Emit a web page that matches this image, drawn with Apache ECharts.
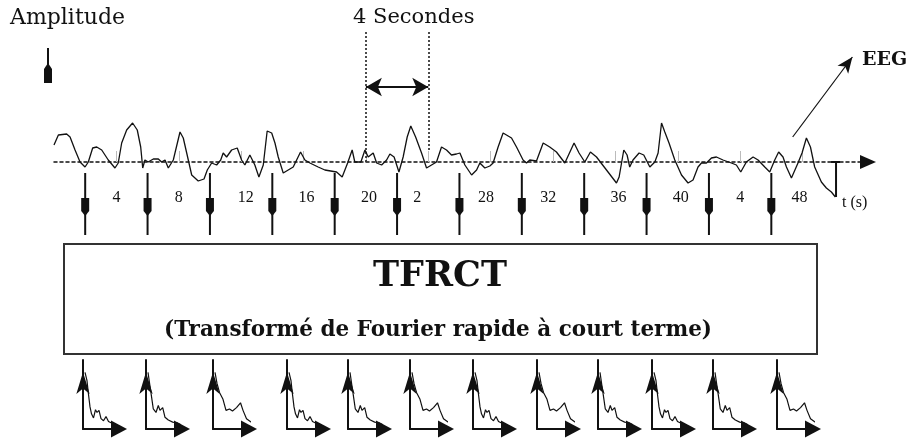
<!DOCTYPE html>
<html>
<head>
<meta charset="utf-8">
<script src="https://cdn.jsdelivr.net/npm/echarts@6/dist/echarts.min.js"></script>
<style>
html, body { margin: 0; padding: 0; background: #fff; }
#chart { width: 918px; height: 444px; }
</style>
</head>
<body>
<div id="chart"></div>
<script>
// EEG trace: time (s) / amplitude
const eegTime = [0, 0.28, 0.81, 1.03, 1.35, 1.67, 1.99, 2.2, 2.48, 2.74,
  3.06, 3.48, 3.91, 4.12, 4.34, 4.66, 5.04, 5.34, 5.56, 5.69,
  5.83, 6.04, 6.37, 6.69, 6.9, 7.12, 7.33, 7.65, 8.08, 8.29,
  8.51, 8.83, 9.25, 9.62, 9.83, 10.11, 10.43, 10.69, 10.85, 11.07,
  11.39, 11.75, 12.03, 12.24, 12.56, 12.88, 13.14, 13.42, 13.67, 13.96,
  14.17, 14.38, 14.7, 15.02, 15.34, 15.81, 16.09, 16.41, 16.94, 17.37,
  18.12, 18.48, 18.83, 19.12, 19.29, 19.68, 19.94, 20.15, 20.47, 20.69,
  21.01, 21.33, 21.54, 21.81, 22.12, 22.39, 22.65, 22.88, 23.19, 23.57,
  23.89, 24.21, 24.53, 24.85, 25.17, 25.49, 25.81, 26.03, 26.35, 26.78,
  27.1, 27.31, 27.63, 27.95, 28.16, 28.48, 28.8, 29.34, 29.66, 30.08,
  30.3, 30.51, 30.94, 31.37, 31.79, 32.22, 32.76, 33.35, 33.67, 34.04,
  34.4, 34.79, 35.43, 36.07, 36.24, 36.54, 36.75, 36.92, 37.13, 37.52,
  37.82, 38.21, 38.53, 38.74, 38.96, 39.17, 39.44, 39.81, 40.24, 40.66,
  40.98, 41.3, 41.52, 41.84, 42.16, 42.48, 42.9, 43.44, 43.76, 44.04,
  44.4, 44.83, 45.15, 45.58, 45.9, 46.22, 46.47, 46.75, 46.97, 47.29,
  47.71, 47.97, 48.25, 48.51, 48.78, 49.21, 49.53, 49.85, 50.11]
const eegAmp = [1.7, 2.7, 2.8, 2.5, 1.2, 0.0, -0.5, 0.0, 1.4, 1.5,
  1.2, 0.2, -0.6, -0.1, 1.9, 3.2, 3.9, 3.2, 1.5, -0.6,
  0.2, 0.0, 0.3, 0.3, 0.0, 0.2, -0.6, 0.2, 3.0, 2.4,
  0.9, -1.3, -1.9, -1.7, -0.8, -0.1, -0.3, 0.2, 0.9, 0.5,
  1.2, 1.4, 0.2, -0.3, 0.7, -0.3, -1.5, -0.3, 3.1, 2.9,
  1.9, 0.5, -1.1, -0.8, -0.5, 1.0, 0.2, -0.1, -0.5, -0.8,
  -1.0, -1.5, -0.1, 1.2, 0.0, 0.0, 1.2, 0.5, 0.9, -0.1,
  -0.3, 0.2, 0.8, 0.5, -1.0, 0.5, 2.5, 3.6, 2.5, 0.9,
  -0.6, -0.3, 0.0, 1.5, 1.2, 0.7, 0.8, 0.9, -0.3, -1.3,
  -0.8, -0.1, -0.6, -0.4, -0.1, 1.5, 2.9, 2.4, 1.5, 0.2,
  -0.1, 0.2, 0.1, 1.9, 1.5, 1.0, -0.1, 1.9, 0.9, 0.0,
  1.0, 0.5, -0.8, -2.1, -1.5, 1.2, 0.7, -0.5, 0.2, 0.9,
  0.7, -0.5, 0.0, 0.9, 3.9, 3.0, 1.9, 0.2, -1.3, -2.1,
  -1.8, -0.5, -0.1, -0.1, 0.4, 0.5, 0.2, -0.1, -0.3, -1.0,
  0.0, 0.5, 0.2, -0.5, -1.0, 0.2, 1.0, 0.5, -0.5, -1.6,
  -0.1, 0.9, 2.4, 1.5, -0.5, -2.0, -2.6, -3.0, -3.5]

// where the trace is cut into windows (arrows down to the box)
const cutTimes = [2, 6, 10, 14, 18, 22, 26, 30, 34, 38, 42, 46]
// window labels, as printed
const labelTimes = [4, 8, 12.3, 16.2, 20.2, 23.3, 27.7, 31.7, 36.2, 40.2, 44, 47.8]
const labelTexts = ['4', '8', '12', '16', '20', '2', '28', '32', '36', '40', '4', '48']
const tickTimes = [4, 8, 12, 16, 20, 24, 28, 32, 36, 40, 44, 48]
// the "4 Secondes" window
const windowSpan = [20, 24]
// end of the trace (t (s) mark)
const traceEnd = 50.15

// spectrum shapes (frequency / magnitude)
const specAFreq = [2, 4, 5.5, 7, 8.5, 10.5, 12.5, 14, 16, 18, 20.5, 23, 25.5, 28, 31, 35]
const specAAmp = [8.2, 7.0, 5.0, 3.2, 2.2, 1.6, 2.8, 2.4, 2.7, 1.5, 1.2, 1.8, 1.1, 0.9, 0.8, 0.5]
const specBFreq = [2, 4, 6.5, 10, 13, 16.5, 19.5, 23.5, 27.5, 30, 33.5, 38, 42, 46]
const specBAmp = [8.2, 6.6, 5.3, 4.3, 2.7, 2.9, 2.6, 3.1, 3.8, 2.7, 1.5, 1.0, 1.4, 1.8]
const specCFreq = [2, 4, 5.7, 7.3, 10, 12.3, 14, 16.7, 19, 22.3, 26.7, 31, 35]
const specCAmp = [8.2, 6.2, 4.5, 2.9, 2.4, 3.4, 2.7, 3.1, 1.7, 1.3, 1.0, 0.9, 0.6]
const specShape = ['A', 'C', 'B', 'A', 'C', 'B', 'A', 'B', 'C', 'A', 'C', 'B']

// layout of the small spectrum plots (left edge of each)
const specLeft = [83, 146, 213, 287, 348, 410, 473, 537, 598, 652, 713, 777]

const ink = '#111'
const serif = 'DejaVu Serif'
const zip = (a, b) => a.map((v, i) => [v, b[i]])
const shapes = {
  A: zip(specAFreq, specAAmp),
  B: zip(specBFreq, specBAmp),
  C: zip(specCFreq, specCAmp)
}

// main grid: its bottom edge is the zero line of the trace
const grids = [{ left: 54, top: 20, width: 814, height: 142, outerBoundsMode: 'none' }]
const xAxes = [{
  type: 'value', gridIndex: 0, min: 0, max: 52.2,
  axisLine: {
    show: true, onZero: false,
    lineStyle: { color: ink, width: 1.5, type: [3, 3] },
    symbol: ['none', 'triangle'], symbolSize: [14, 16]
  },
  axisTick: { show: true, inside: true, length: 11, customValues: tickTimes, lineStyle: { color: '#bbb' } },
  axisLabel: {
    show: true, customValues: labelTimes, margin: 28,
    color: ink, fontFamily: 'Liberation Serif', fontSize: 16,
    formatter: v => labelTexts[labelTimes.indexOf(v)]
  },
  splitLine: { show: false }
}]
const yAxes = [{ type: 'value', gridIndex: 0, min: 0, max: 14.2, show: false }]

const series = [
  {
    type: 'line', xAxisIndex: 0, yAxisIndex: 0, clip: false,
    data: zip(eegTime, eegAmp), showSymbol: false, silent: true,
    lineStyle: { color: ink, width: 1.3 }
  },
  {
    // arrows down from each cut to the box
    type: 'custom', xAxisIndex: 0, yAxisIndex: 0, silent: true, clip: false,
    data: cutTimes.map(t => [t]),
    renderItem: function (params, api) {
      const t = api.value(0)
      const top = api.coord([t, -1.1])
      const bot = api.coord([t, -7.3])
      const h1 = api.coord([t, -3.6])[1]
      const h2 = api.coord([t, -5.4])[1]
      const x = top[0]
      return {
        type: 'group',
        children: [
          { type: 'line', shape: { x1: x, y1: top[1], x2: x, y2: bot[1] }, style: { stroke: ink, lineWidth: 2 } },
          { type: 'polygon', shape: { points: [[x - 4, h1], [x + 4, h1], [x + 4, h2 - 5], [x, h2], [x - 4, h2 - 5]] }, style: { fill: ink } }
        ]
      }
    }
  },
  {
    // end mark: from the zero line down to the last sample
    type: 'custom', xAxisIndex: 0, yAxisIndex: 0, silent: true, clip: false,
    data: [[traceEnd, eegAmp[eegAmp.length - 1]]],
    renderItem: function (params, api) {
      const p0 = api.coord([api.value(0), 0])
      const p1 = api.coord([api.value(0), api.value(1)])
      return {
        type: 'group',
        children: [
          { type: 'line', shape: { x1: p0[0], y1: p0[1], x2: p1[0], y2: p1[1] }, style: { stroke: ink, lineWidth: 2 } },
          { type: 'line', shape: { x1: p0[0] - 5, y1: p0[1], x2: p0[0] + 4, y2: p0[1] }, style: { stroke: ink, lineWidth: 2 } }
        ]
      }
    }
  },
  {
    // dotted window edges
    type: 'line', xAxisIndex: 0, yAxisIndex: 0, data: [], clip: false,
    markLine: {
      silent: true, symbol: 'none', label: { show: false }, animation: false,
      lineStyle: { color: ink, width: 1.5, type: [2, 2] },
      data: [
        [{ coord: [windowSpan[0], 0] }, { coord: [windowSpan[0], 13.2] }],
        [{ coord: [windowSpan[1], 1.2] }, { coord: [windowSpan[1], 13.2] }]
      ]
    }
  },
  {
    // double arrow: 4 s
    type: 'line', xAxisIndex: 0, yAxisIndex: 0, data: [], clip: false,
    markLine: {
      silent: true, symbol: ['arrow', 'arrow'], symbolSize: [14, 16], label: { show: false }, animation: false,
      lineStyle: { color: ink, width: 2, type: 'solid' },
      data: [[{ coord: [windowSpan[0], 7.5] }, { coord: [windowSpan[1], 7.5] }]]
    }
  },
  {
    // pointer to the EEG label
    type: 'line', xAxisIndex: 0, yAxisIndex: 0, data: [], clip: false,
    markLine: {
      silent: true, symbol: ['none', 'arrow'], symbolSize: [10, 16], label: { show: false }, animation: false,
      lineStyle: { color: ink, width: 1.2, type: 'solid' },
      data: [[{ coord: [47.37, 2.5] }, { coord: [51.2, 10.5] }]]
    }
  }
]

specShape.forEach((s, i) => {
  const g = i + 1
  grids.push({ left: specLeft[i], top: 360, width: 36, height: 69, outerBoundsMode: 'none' })
  xAxes.push({
    type: 'value', gridIndex: g, min: 0, max: 36,
    axisLine: { show: true, onZero: false, lineStyle: { color: ink, width: 2 }, symbol: ['none', 'triangle'], symbolSize: [17, 16] },
    axisTick: { show: false }, axisLabel: { show: false }, splitLine: { show: false }
  })
  yAxes.push({
    type: 'value', gridIndex: g, min: 0, max: 10,
    axisLine: { show: true, onZero: false, lineStyle: { color: ink, width: 2 }, symbol: ['none', 'arrow'], symbolSize: [10, 22], symbolOffset: [0, -12] },
    axisTick: { show: false }, axisLabel: { show: false }, splitLine: { show: false }
  })
  series.push({
    type: 'line', xAxisIndex: g, yAxisIndex: g, data: shapes[s],
    showSymbol: false, clip: false, silent: true,
    lineStyle: { color: ink, width: 1.2 }
  })
})

const myChart = echarts.init(document.getElementById('chart'))
myChart.setOption({
  animation: false,
  backgroundColor: '#fff',
  grid: grids,
  xAxis: xAxes,
  yAxis: yAxes,
  series: series,
  graphic: [
    { type: 'text', left: 10, top: 7, style: { text: 'Amplitude', font: '22px "' + serif + '"', fill: ink } },
    { type: 'text', left: 353, top: 7, style: { text: '4 Secondes', font: '21px "' + serif + '"', fill: ink } },
    { type: 'text', left: 862, top: 51, style: { text: 'EEG', font: 'bold 19px "' + serif + '"', fill: ink } },
    { type: 'text', left: 842, top: 195, style: { text: 't (s)', font: '16px "Liberation Serif"', fill: ink } },
    // amplitude arrow
    { type: 'line', shape: { x1: 48, y1: 48, x2: 48, y2: 70 }, style: { stroke: ink, lineWidth: 2 } },
    { type: 'polygon', shape: { points: [[44, 83], [52, 83], [52, 69], [48, 63], [44, 69]] }, style: { fill: ink } },
    // TFRCT box
    { type: 'rect', shape: { x: 64, y: 244, width: 753, height: 110 }, style: { fill: 'none', stroke: '#333', lineWidth: 2 } },
    { type: 'text', x: 440, y: 277, style: { text: 'TFRCT', font: 'bold 35px "' + serif + '"', fill: ink, textAlign: 'center', textVerticalAlign: 'middle' } },
    { type: 'text', x: 438, y: 330, style: { text: '(Transformé de Fourier rapide à court terme)', font: 'bold 21.5px "' + serif + '"', fill: ink, textAlign: 'center', textVerticalAlign: 'middle' } }
  ]
})
</script>
</body>
</html>
